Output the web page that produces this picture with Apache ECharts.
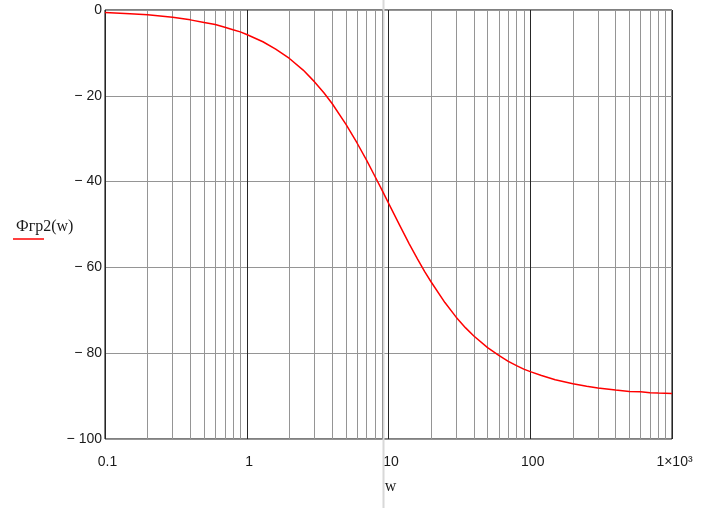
<!DOCTYPE html>
<html><head><meta charset="utf-8">
<script src="https://cdn.jsdelivr.net/npm/echarts@6/dist/echarts.min.js"></script>
<style>html,body{margin:0;padding:0;background:#fff}#c{width:701px;height:508px}</style>
</head><body><div id="c"></div>
<script>
// frequency w (log scale)
const wValues = [0.1,0.15,0.2,0.3,0.4,0.5,0.6,0.7,0.8,0.9,1,1.3,1.6,2,2.5,3,3.5,4,5,6,7,8,9,10,12,14,16,18,20,25,30,35,40,50,60,70,80,90,100,120,150,200,250,300,400,500,600,700,800,1000];
// phase Фгр2(w), degrees
const phaseValues = [-0.6,-0.9,-1.1,-1.7,-2.3,-2.9,-3.4,-4.0,-4.6,-5.1,-5.7,-7.4,-9.1,-11.3,-14.0,-16.7,-19.3,-21.8,-26.6,-31.0,-35.0,-38.7,-42.0,-45.0,-50.2,-54.5,-58.0,-61.0,-63.4,-68.2,-71.6,-74.1,-76.0,-78.7,-80.5,-81.9,-82.9,-83.7,-84.3,-85.2,-86.2,-87.1,-87.7,-88.1,-88.6,-88.9,-89.0,-89.2,-89.3,-89.4];
const xTickLabels = {'0.1':'0.1','1':'1','10':'10','100':'100','1000':'1×10³'};
const yTickValues = [0,-20,-40,-60,-80,-100];
const minorGridValues = [0.2,0.3,0.4,0.5,0.6,0.7,0.8,0.9,2,3,4,5,6,7,8,9,20,30,40,50,60,70,80,90,200,300,400,500,600,700,800,900];
const seriesName = 'Фгр2(w)';
const xName = 'w';

const chart = echarts.init(document.getElementById('c'), null, {renderer:'canvas'});
const labelFont = {fontFamily:'Liberation Sans', fontSize:14, color:'#1a1a1a'};
chart.setOption({
  animation:false,
  backgroundColor:'#fff',
  grid:{left:105, right:29, top:10, bottom:69, show:true, borderColor:'#000', borderWidth:1, backgroundColor:'transparent'},
  xAxis:{
    type:'log', logBase:10, min:0.1, max:1000,
    name:xName, nameLocation:'middle', nameGap:40,
    nameTextStyle:{fontFamily:'Liberation Serif', fontSize:16, color:'#1a1a1a', padding:[0,0,0,4]},
    axisLine:{show:false}, axisTick:{show:false},
    splitLine:{show:true, lineStyle:{color:'#262626', width:1}},
    axisLabel:Object.assign({}, labelFont, {margin:16, padding:[0,0,0,5],
      formatter:function(v){ const k = String(Math.round(v*10)/10); return xTickLabels[k] !== undefined ? xTickLabels[k] : ''; }
    })
  },
  yAxis:{
    type:'value', min:-100, max:0, interval:20,
    axisLine:{show:false}, axisTick:{show:false},
    splitLine:{show:true, lineStyle:{color:'#959595', width:1}},
    axisLabel:Object.assign({}, labelFont, {margin:3,
      formatter:function(v){ return yTickValues.indexOf(v) < 0 ? '' : (v === 0 ? '0' : '− ' + Math.abs(v)); }
    })
  },
  graphic:[
    {type:'rect', z:1, shape:{x:382.5, y:0, width:2, height:508}, style:{fill:'#d8d8d8'}, silent:true},
    {type:'text', left:16, top:219, style:{text:seriesName, font:'16px "Liberation Serif"', fill:'#1a1a1a'}},
    {type:'line', shape:{x1:13, y1:239, x2:44, y2:239}, style:{stroke:'#ff0000', lineWidth:1.5}}
  ],
  series:[
    {
      type:'line', data:[], z:1, silent:true,
      markLine:{silent:true, symbol:['none','none'], label:{show:false},
        lineStyle:{color:'#959595', type:'solid', width:1},
        emphasis:{disabled:true},
        data:minorGridValues.map(v=>({xAxis:v}))}
    },
    {
      name:seriesName, type:'line', z:5,
      data:wValues.map((w,i)=>[w, phaseValues[i]]),
      showSymbol:false, smooth:false,
      lineStyle:{color:'#ff0000', width:1.5}
    }
  ]
});
</script></body></html>
